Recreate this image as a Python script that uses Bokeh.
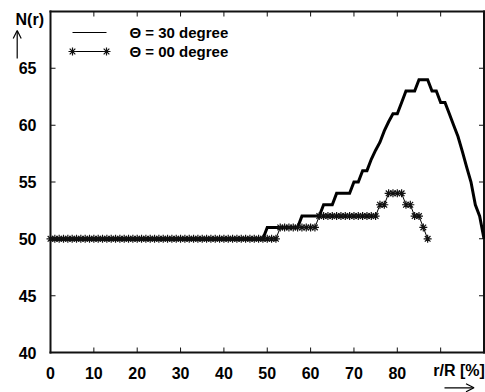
from bokeh.plotting import figure
from bokeh.models import (FixedTicker, LinearAxis, Range1d, Label, Arrow, OpenHead)
from bokeh.embed import file_html
from bokeh.resources import INLINE

# ---------------- data ----------------
x_30 = list(range(0, 101))
y_30 = [50, 50, 50, 50, 50, 50, 50, 50, 50, 50,
        50, 50, 50, 50, 50, 50, 50, 50, 50, 50,
        50, 50, 50, 50, 50, 50, 50, 50, 50, 50,
        50, 50, 50, 50, 50, 50, 50, 50, 50, 50,
        50, 50, 50, 50, 50, 50, 50, 50, 50, 50,
        51, 51, 51, 51, 51, 51, 51, 51,
        52, 52, 52, 52, 52,
        53, 53, 53,
        54, 54, 54, 54,
        55, 55,
        56, 56,
        57, 57.8, 58.5, 59.5, 60.3,
        61, 61,
        62,
        63, 63, 63,
        64, 64, 64,
        63, 63,
        62, 62,
        61, 60, 59, 57.7, 56.3, 55, 53, 52, 50]

x_00 = list(range(0, 88))
y_00 = [50, 50, 50, 50, 50, 50, 50, 50, 50, 50,
        50, 50, 50, 50, 50, 50, 50, 50, 50, 50,
        50, 50, 50, 50, 50, 50, 50, 50, 50, 50,
        50, 50, 50, 50, 50, 50, 50, 50, 50, 50,
        50, 50, 50, 50, 50, 50, 50, 50, 50, 50,
        50, 50, 50,
        51, 51, 51, 51, 51, 51, 51, 51, 51,
        52, 52, 52, 52, 52, 52, 52, 52, 52, 52, 52, 52, 52, 52,
        53, 53,
        54, 54, 54, 54,
        53, 53,
        52, 52,
        51,
        50]

x_ticks = [0, 10, 20, 30, 40, 50, 60, 70, 80, 90, 100]
y_ticks = [40, 45, 50, 55, 60, 65, 70]
label_30 = "\u0398 = 30 degree"
label_00 = "\u0398 = 00 degree"
x_caption = "r/R [%]"
y_caption = "N(r)"

X_MIN, X_MAX = 0, 100
Y_MIN, Y_MAX = 40, 70

FONT = "Liberation Sans"
INK = "#111111"
W, H = 485, 392
# pixel geometry of the data box inside the canvas
BOX_L, BOX_R, BOX_T, BOX_B = 50, 483.5, 11, 352
TICK = 5      # px, ticks point inward
FRAME_W = 2   # px, frame line thickness
sx = (BOX_R - BOX_L) / (X_MAX - X_MIN)
sy = (BOX_B - BOX_T) / (Y_MAX - Y_MIN)
x_range = Range1d(X_MIN - BOX_L / sx, X_MAX + (W - BOX_R) / sx)
y_range = Range1d(Y_MIN - (H - BOX_B) / sy, Y_MAX + BOX_T / sy)


def dx_of(px):  # canvas pixel -> data x
    return X_MIN + (px - BOX_L) / sx


def dy_of(py):  # canvas pixel -> data y
    return Y_MAX - (py - BOX_T) / sy


p = figure(width=W, height=H, output_backend="svg", toolbar_location=None,
           x_range=x_range, y_range=y_range, min_border=0,
           x_axis_location=None, y_axis_location=None)
p.background_fill_color = "white"
p.border_fill_color = "white"
p.outline_line_color = None
p.grid.grid_line_color = None


def style_axis(ax):
    ax.axis_line_color = None
    ax.major_tick_line_color = None
    ax.minor_tick_line_color = None
    ax.major_label_text_font = FONT
    ax.major_label_text_font_style = "bold"
    ax.major_label_text_color = "black"
    ax.major_label_text_font_size = "16px"
    ax.major_label_standoff = 8


# tick labels from axes pinned to the lower and left edges of the data box
xb = LinearAxis(ticker=FixedTicker(ticks=x_ticks), fixed_location=Y_MIN,
                bounds=(X_MIN, X_MAX),
                major_label_overrides={90: "", 100: ""})
style_axis(xb)
p.add_layout(xb, "below")
yl = LinearAxis(ticker=FixedTicker(ticks=y_ticks), fixed_location=X_MIN,
                bounds=(Y_MIN, Y_MAX), major_label_overrides={70: ""})
style_axis(yl)
p.add_layout(yl, "left")

# frame box (filled strips) and inward tick marks on all four sides
hx = FRAME_W / 2 / sx
hy = FRAME_W / 2 / sy
p.quad(left=[X_MIN - hx, X_MIN - hx, X_MIN - hx, X_MAX - hx],
       right=[X_MAX + hx, X_MAX + hx, X_MIN + hx, X_MAX + hx],
       bottom=[Y_MIN - hy, Y_MAX - hy, Y_MIN - hy, Y_MIN - hy],
       top=[Y_MIN + hy, Y_MAX + hy, Y_MAX + hy, Y_MAX + hy],
       fill_color=INK, line_color=None)
ddx = TICK / sx
ddy = TICK / sy
tx = 0.5 / sx
ty = 0.5 / sy
tl, tr, tb, tt = [], [], [], []
for t in x_ticks:
    tl += [t - tx, t - tx]
    tr += [t + tx, t + tx]
    tb += [Y_MIN, Y_MAX - ddy]
    tt += [Y_MIN + ddy, Y_MAX]
for t in y_ticks:
    tl += [X_MIN, X_MAX - ddx]
    tr += [X_MIN + ddx, X_MAX]
    tb += [t - ty, t - ty]
    tt += [t + ty, t + ty]
p.quad(left=tl, right=tr, bottom=tb, top=tt, fill_color=INK, line_color=None)

# data series
p.line(x_30, y_30, line_color="black", line_width=3, line_join="miter")
p.line(x_00, y_00, line_color="black", line_width=1)
p.scatter(x_00, y_00, marker="asterisk", size=8,
          line_color=INK, line_width=1.2)

# key (gnuplot style: sample line, stars at both ends for the point series)
key_x = [dx_of(72), dx_of(106)]
key_y1 = dy_of(32)
key_y2 = dy_of(51)
p.line(key_x, [key_y1, key_y1], line_color="black", line_width=1)
p.line(key_x, [key_y2, key_y2], line_color="black", line_width=1)
p.scatter(key_x, [key_y2, key_y2], marker="asterisk", size=8,
          line_color=INK, line_width=1.2)
for txt, ky in ((label_30, key_y1), (label_00, key_y2)):
    p.add_layout(Label(x=dx_of(129), y=ky, text=txt, text_align="left",
                       text_baseline="middle", text_font=FONT,
                       text_font_style="bold", text_font_size="15px",
                       text_color="black"))

# axis captions and arrows
p.add_layout(Label(x=dx_of(43.5), y=dy_of(19), text=y_caption, text_align="right",
                   text_baseline="middle", text_font=FONT,
                   text_font_style="bold", text_font_size="16px",
                   text_color="black"))
p.add_layout(Arrow(end=OpenHead(size=8, line_width=1.2, line_color="black"),
                   x_start=dx_of(16.7), y_start=dy_of(58), x_end=dx_of(16.7),
                   y_end=dy_of(30), line_width=1.2, line_color="black"))
p.add_layout(Label(x=dx_of(484.3), y=dy_of(369.5), text=x_caption,
                   text_align="right", text_baseline="middle", text_font=FONT,
                   text_font_style="bold", text_font_size="16px",
                   text_color="black"))
p.add_layout(Arrow(end=OpenHead(size=8, line_width=1.2, line_color="black"),
                   x_start=dx_of(444), y_start=dy_of(387.3), x_end=dx_of(473.5),
                   y_end=dy_of(387.3), line_width=1.2, line_color="black"))

open("out.html", "w").write(file_html(p, INLINE))
